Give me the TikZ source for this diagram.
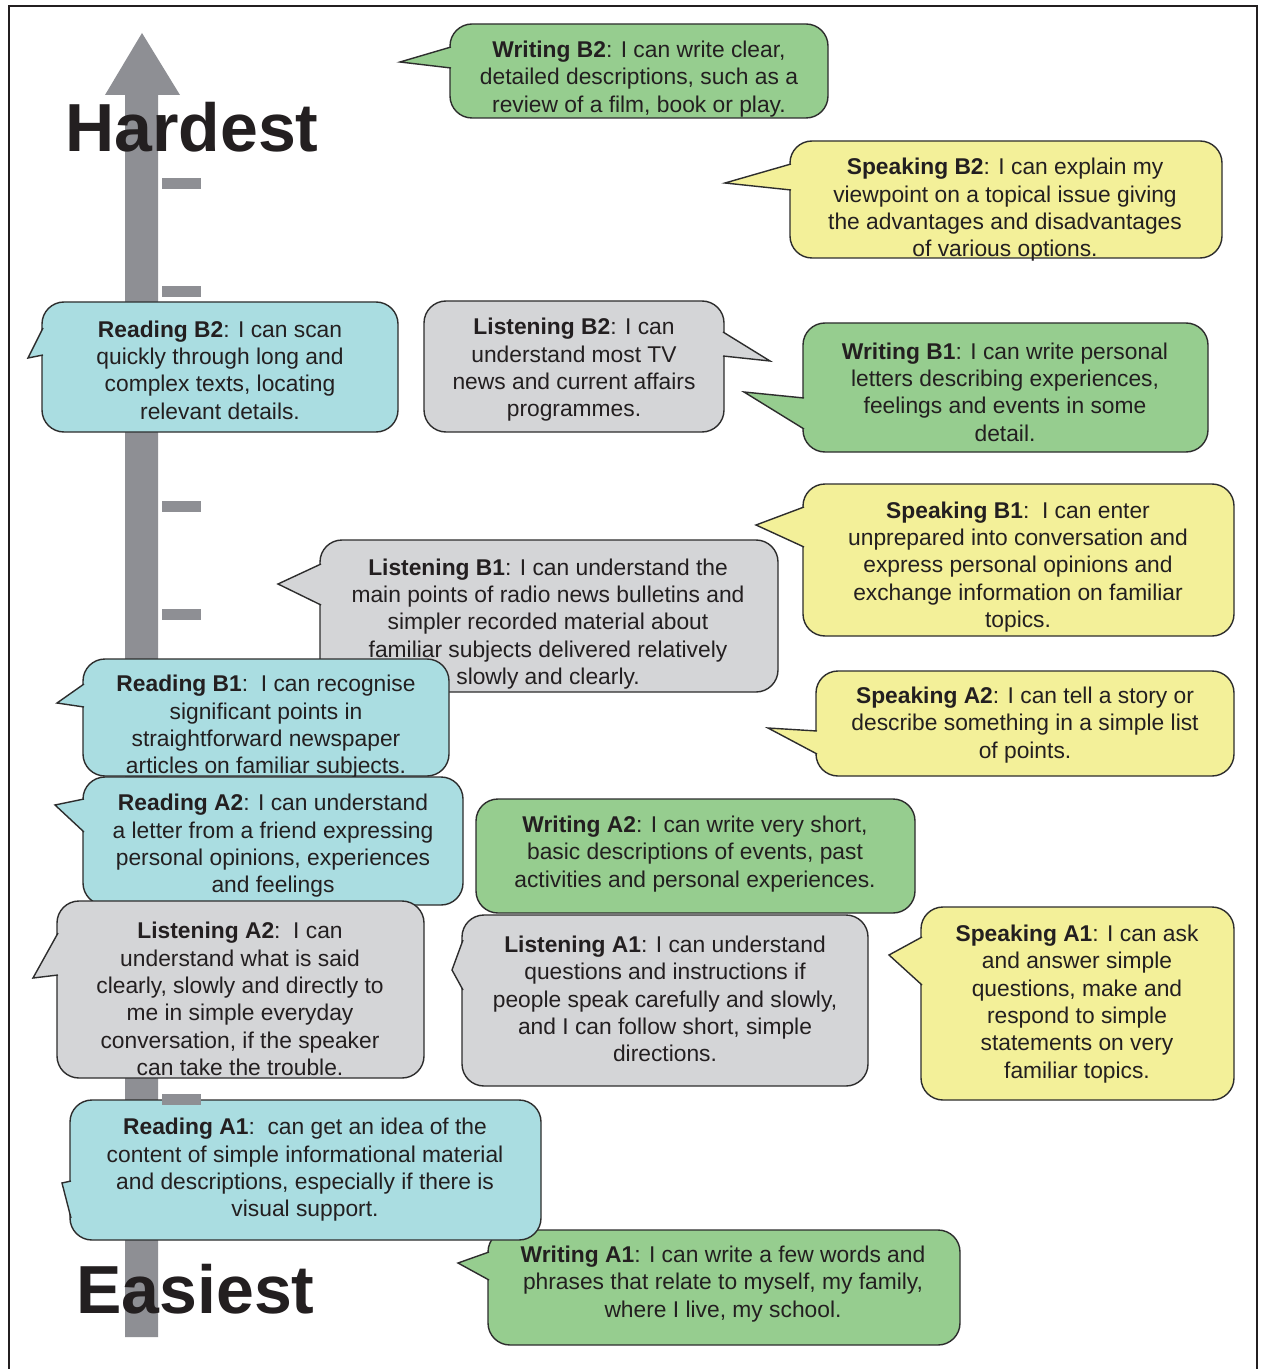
\documentclass[tikz,border=0pt]{standalone}
\usepackage{fontspec}
\setmainfont{Liberation Sans}
\usetikzlibrary{calc}
\definecolor{cy}{RGB}{170,221,225}
\definecolor{gr}{RGB}{150,205,143}
\definecolor{ye}{RGB}{243,240,153}
\definecolor{gy}{RGB}{212,213,215}
\definecolor{arrowgray}{RGB}{142,143,148}
\definecolor{ink}{RGB}{35,31,32}
\definecolor{edge}{RGB}{45,45,45}
\tikzset{
  bline/.style={draw=edge, line width=0.7pt},
  btext/.style={font=\fontsize{11.4}{13.65}\selectfont, align=center, text=ink, inner sep=0pt},
  bigword/.style={font=\fontsize{34}{34}\selectfont\bfseries, text=ink, inner sep=0pt, anchor=base west},
  tickbar/.style={fill=arrowgray}
}
\newcommand\bubble[7]{%
  \draw[bline, fill=#1, rounded corners=11pt] #2 rectangle #3;
  \fill[#1] #4 -- #5 -- ($#5+#7$) -- ($#6+#7$) -- #6 -- cycle;
  \draw[bline, line join=miter] #5 -- #4 -- #6;
}
\begin{document}
\begin{tikzpicture}[x=0.5pt,y=-0.5pt]
\useasboundingbox (0,0) rectangle (1263,1369);
\fill[white] (0,0) rectangle (1263,1369);
\draw[line width=1pt, ink] (9,1369) -- (9,6) -- (1257,6) -- (1257,1369);

% arrow
\fill[arrowgray] (125,1337) -- (125,95) -- (105,95) -- (142,33) -- (180,95) -- (158,95) -- (158,1337) -- cycle;

% Writing B2
\bubble{gr}{(450,24)}{(828,118)}{(400,62)}{(451,47)}{(451,68)}{(6,0)}
\node[btext] (wb2) at (639,79) {\textbf{Writing B2}: I can write clear,\\detailed descriptions, such as a\\review of a film, book or play.};

% Speaking B2
\bubble{ye}{(790,141)}{(1222,258)}{(725,183)}{(791,164)}{(791,190)}{(6,0)}
\node[btext] (sb2) at (1005,210) {\textbf{Speaking B2}: I can explain my\\viewpoint on a topical issue giving\\the advantages and disadvantages\\of various options.};

% Listening B2
\bubble{gy}{(424,301)}{(724,432)}{(770,361)}{(723,332)}{(723,356)}{(-6,0)}
\node[btext] (lb2) at (574,370) {\textbf{Listening B2}: I can\\understand most TV\\news and current affairs\\programmes.};

% Writing B1
\bubble{gr}{(803,323)}{(1208,452)}{(744,392)}{(804,398)}{(804,429)}{(6,0)}
\node[btext] (wb1) at (1005,392) {\textbf{Writing B1}: I can write personal\\letters describing experiences,\\feelings and events in some\\detail.};

% Reading B2
\bubble{cy}{(42,302)}{(398,432)}{(28,358)}{(43,328)}{(43,355)}{(6,0)}
\node[btext] (rb2) at (220,370) {\textbf{Reading B2}: I can scan\\quickly through long and\\complex texts, locating\\relevant details.};

% Speaking B1
\bubble{ye}{(803,484)}{(1234,636)}{(756,525)}{(804,507)}{(804,547)}{(6,0)}
\node[btext] (sb1) at (1018,567) {\textbf{Speaking B1}:\ \ I can enter\\unprepared into conversation and\\express personal opinions and\\exchange information on familiar\\topics.};

% Listening B1
\bubble{gy}{(320,540)}{(778,692)}{(278,584)}{(321,564)}{(321,605)}{(6,0)}
\node[btext] (lb1) at (548,624) {\textbf{Listening B1}: I can understand the\\main points of radio news bulletins and\\simpler recorded material about\\familiar subjects delivered relatively\\slowly and clearly.};

% Speaking A2
\bubble{ye}{(816,671)}{(1234,776)}{(768,728)}{(817,731)}{(817,754)}{(6,0)}
\node[btext] (sa2) at (1025,725) {\textbf{Speaking A2}: I can tell a story or\\describe something in a simple list\\of points.};

% Reading B1
\bubble{cy}{(83,659)}{(449,776)}{(57,703)}{(84,684)}{(84,707)}{(6,0)}
\node[btext] (rb1) at (266,727) {\textbf{Reading B1}:\ \ I can recognise\\significant points in\\straightforward newspaper\\articles on familiar subjects.};

% Reading A2
\bubble{cy}{(83,777)}{(463,905)}{(55,805)}{(84,799)}{(84,832)}{(6,0)}
\node[btext] (ra2) at (273,846) {\textbf{Reading A2}: I can understand\\a letter from a friend expressing\\personal opinions, experiences\\and feelings};

% Listening A2
\bubble{gy}{(57,901)}{(424,1078)}{(33,978)}{(58,933)}{(58,975)}{(6,0)}
\node[btext] (la2) at (240,999) {\textbf{Listening A2}:\ \ I can\\understand what is said\\clearly, slowly and directly to\\me in simple everyday\\conversation, if the speaker\\can take the trouble.};

% Listening A1
\bubble{gy}{(462,915)}{(868,1086)}{(452,970)}{(463,940)}{(463,990)}{(6,0)}
\node[btext] (la1) at (665,999) {\textbf{Listening A1}: I can understand\\questions and instructions if\\people speak carefully and slowly,\\and I can follow short, simple\\directions.};

% Writing A2
\draw[bline, fill=gr, rounded corners=11pt] (476,799) rectangle (915,913);
\node[btext] (wa2) at (695,854) {\textbf{Writing A2}: I can write very short,\\basic descriptions of events, past\\activities and personal experiences.};

% Speaking A1
\bubble{ye}{(921,907)}{(1234,1100)}{(889,955)}{(922,937)}{(922,985)}{(6,0)}
\node[btext] (sa1) at (1077,1004) {\textbf{Speaking A1}: I can ask\\and answer simple\\questions, make and\\respond to simple\\statements on very\\familiar topics.};

% Writing A1
\bubble{gr}{(488,1230)}{(960,1345)}{(458,1263)}{(489,1252)}{(489,1280)}{(6,0)}
\node[btext] (wa1) at (723,1284) {\textbf{Writing A1}: I can write a few words and\\phrases that relate to myself, my family,\\where I live, my school.};

% Reading A1
\bubble{cy}{(70,1100)}{(541,1240)}{(62,1183)}{(71,1181)}{(71,1218)}{(6,0)}
\node[btext] (ra1) at (305,1170) {\textbf{Reading A1}:\ \ can get an idea of the\\content of simple informational material\\and descriptions, especially if there is\\visual support.};

% ticks
\fill[tickbar] (162,178) rectangle (201,189);
\fill[tickbar] (162,286) rectangle (201,297);
\fill[tickbar] (162,501) rectangle (201,512);
\fill[tickbar] (162,609) rectangle (201,620);
\fill[tickbar] (162,1094) rectangle (201,1105);

% big words
\node[bigword] (hardest) at (65,152) {Hardest};
\node[bigword] (easiest) at (76,1313) {Easiest};
\end{tikzpicture}
\end{document}
